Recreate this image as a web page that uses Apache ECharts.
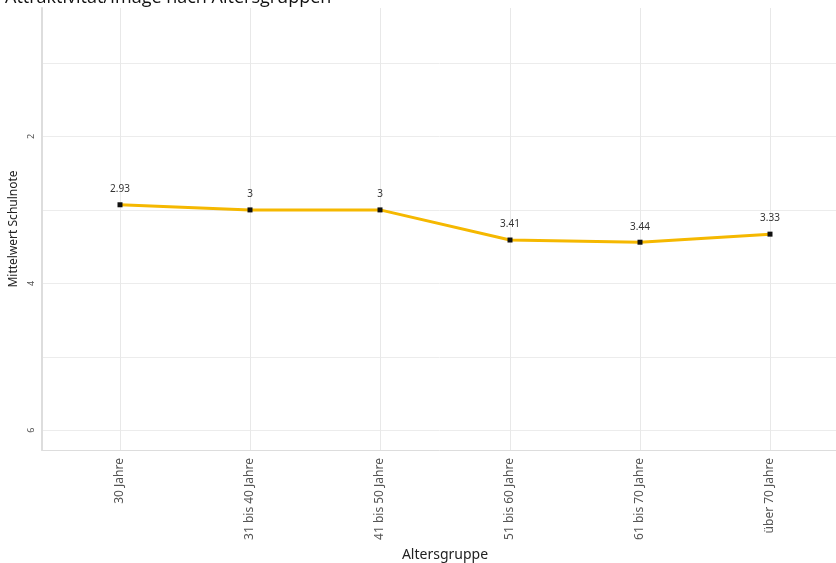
<!DOCTYPE html>
<html><head><meta charset="utf-8">
<script src="https://cdn.jsdelivr.net/npm/echarts@6/dist/echarts.min.js"></script>
<style>html,body{margin:0;padding:0;background:#fff}#c{width:836px;height:563px}</style>
</head><body><div id="c"></div>
<script>
const titleText = 'Attraktivität/Image nach Altersgruppen';
const categories = ['30 Jahre','31 bis 40 Jahre','41 bis 50 Jahre','51 bis 60 Jahre','61 bis 70 Jahre','über 70 Jahre'];
const values = [2.93, 3, 3, 3.41, 3.44, 3.33];
const valueLabels = ['2.93','3','3','3.41','3.44','3.33'];
const yTickLabels = [2, 4, 6];
const yGridValues = [1, 2, 3, 4, 5, 6];
const xPositions = [1, 2, 3, 4, 5, 6];

const chart = echarts.init(document.getElementById('c'));
chart.setOption({
  animation: false,
  title: { text: titleText, left: 0, top: -16, textStyle: { fontFamily: 'Open Sans', fontSize: 18, fontWeight: 'normal', color: '#111' } },
  grid: { left: 42, right: -12, top: 8, bottom: 113, containLabel: false, outerBoundsMode: 'none' },
  xAxis: {
    type: 'value', min: 0.4, max: 6.6,
    name: 'Altersgruppe', nameLocation: 'middle', nameGap: 98,
    nameTextStyle: { fontFamily: 'Noto Sans', fontSize: 14, color: '#222' },
    axisLine: { show: true, lineStyle: { color: '#ddd', width: 1 } },
    axisTick: { show: false, customValues: xPositions },
    splitLine: { show: true, lineStyle: { color: '#e8e8e8', width: 1 } },
    axisLabel: {
      customValues: xPositions,
      rotate: 90, fontFamily: 'Noto Sans', fontSize: 12, color: '#555', margin: 8,
      formatter: v => categories[Math.round(v) - 1] || ''
    }
  },
  yAxis: {
    type: 'value', inverse: true, min: 0.25, max: 6.27,
    name: 'Mittelwert Schulnote', nameLocation: 'middle', nameGap: 19,
    nameTextStyle: { fontFamily: 'Noto Sans', fontSize: 12, color: '#222' },
    axisLine: { show: true, lineStyle: { color: '#ddd', width: 2 } },
    axisTick: { show: false, customValues: yGridValues },
    splitLine: { show: true, lineStyle: { color: '#ececec', width: 1 } },
    axisLabel: {
      customValues: yTickLabels,
      rotate: 90, fontFamily: 'Noto Sans', fontSize: 9, color: '#555', margin: 6,
      formatter: v => String(v)
    }
  },
  series: [{
    type: 'line',
    data: values.map((v, i) => [xPositions[i], v]),
    lineStyle: { color: '#F5B800', width: 3 },
    itemStyle: { color: '#111' },
    symbol: 'rect', symbolSize: 5, showAllSymbol: true,
    label: { show: true, position: 'top', distance: 8, fontFamily: 'Noto Sans', fontSize: 10, color: '#333',
      formatter: p => valueLabels[p.dataIndex] }
  }]
});
</script></body></html>
